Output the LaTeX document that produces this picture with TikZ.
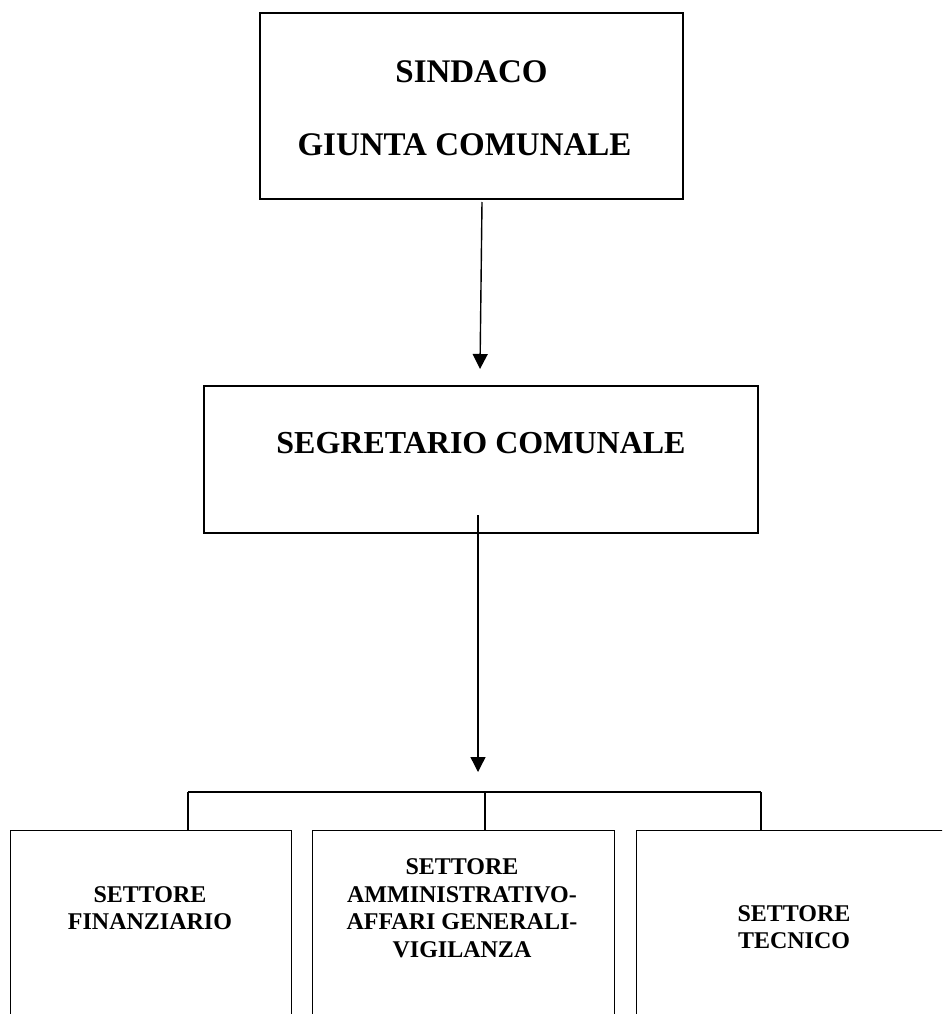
\documentclass[tikz,border=0pt]{standalone}
\usepackage{fontspec}
\setmainfont{Liberation Serif}
\usetikzlibrary{arrows.meta}
\begin{document}
\begin{tikzpicture}[x=1pt,y=-1pt, line width=1.4pt,
  box/.style={draw, rectangle, inner sep=0pt},
  lbl/.style={font=\bfseries\fontsize{32}{38}\selectfont, align=center, inner sep=0pt},
  tlbl/.style={font=\bfseries\fontsize{33}{38}\selectfont, align=center, inner sep=0pt},
  slbl/.style={font=\bfseries\fontsize{24}{27.5}\selectfont, align=center, inner sep=0pt},
  arr/.style={-{Triangle[length=15pt,width=15pt]}}]
\useasboundingbox (0,0) rectangle (942,1014);
\clip (0,0) rectangle (942,1014);
% top box
\node[box, minimum width=423pt, minimum height=186pt] (sind) at (471.5,106) {};
\node[tlbl] (sindt) at (471.5,72) {SINDACO};
\node[tlbl] (giunt) at (464.5,145) {GIUNTA COMUNALE};
% middle box
\node[box, minimum width=554pt, minimum height=147pt] (segr) at (481,459.5) {};
\node[lbl] (segrt) at (481,443) {SEGRETARIO COMUNALE};
% arrows
\coordinate (a1s) at (482,202);
\coordinate (a1e) at (480,369);
\draw[arr] (a1s) -- (a1e);
\coordinate (a2s) at (478,515);
\coordinate (a2e) at (478,772);
\draw[arr] (a2s) -- (a2e);
% bottom boxes
\node[box, anchor=north west, minimum width=281pt, minimum height=220pt] (fin) at (10,830) {};
\node[box, anchor=north west, minimum width=302pt, minimum height=220pt] (amm) at (312,830) {};
\node[box, anchor=north west, minimum width=330pt, minimum height=220pt] (tec) at (636,830) {};
\node[slbl] (fint) at (150,908) {SETTORE\\FINANZIARIO};
\node[slbl] (ammt) at (462,908) {SETTORE\\AMMINISTRATIVO-\\AFFARI GENERALI-\\VIGILANZA};
\node[slbl] (tect) at (794,927) {SETTORE\\TECNICO};
% bracket
\coordinate (bl) at (188,792);
\coordinate (bm) at (485,792);
\coordinate (br) at (761,792);
\draw (bl) -- (br);
\draw (bl) -- (bl |- fin.north);
\draw (bm) -- (bm |- amm.north);
\draw (br) -- (br |- tec.north);
\end{tikzpicture}
\end{document}
